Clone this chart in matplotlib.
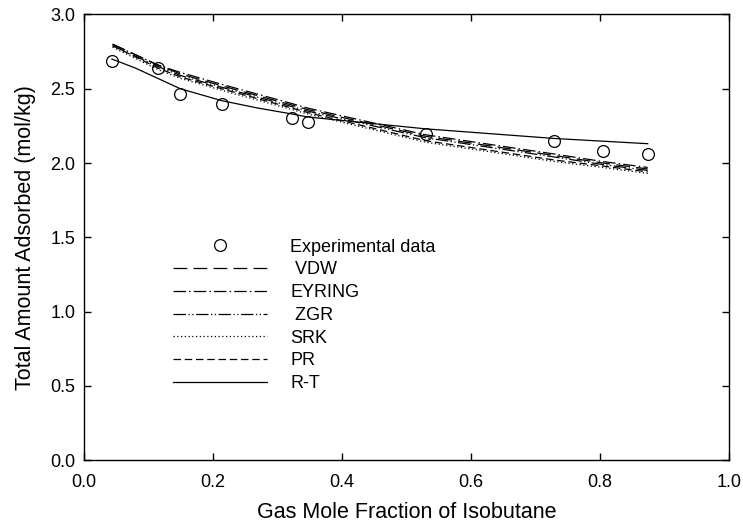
import matplotlib
matplotlib.use("Agg")
import matplotlib.pyplot as plt

plt.rcParams['font.family'] = ['Liberation Sans', 'DejaVu Sans']

# Experimental data
x_exp = [0.044, 0.115, 0.150, 0.214, 0.323, 0.347, 0.530, 0.729, 0.804, 0.874]
y_exp = [2.686, 2.638, 2.468, 2.395, 2.306, 2.276, 2.198, 2.146, 2.078, 2.058]

# Model curves
x_mod = [0.045, 0.115, 0.150, 0.214, 0.323, 0.347, 0.530, 0.730, 0.804, 0.874]
y_vdw = [2.80, 2.66, 2.60, 2.52, 2.39, 2.36, 2.18, 2.05, 2.00, 1.96]
y_eyring = [2.80, 2.66, 2.61, 2.53, 2.40, 2.37, 2.19, 2.06, 2.01, 1.97]
y_zgr = [2.79, 2.65, 2.59, 2.51, 2.38, 2.35, 2.17, 2.04, 1.99, 1.95]
y_srk = [2.78, 2.63, 2.57, 2.49, 2.36, 2.33, 2.14, 2.01, 1.97, 1.93]
y_pr = [2.79, 2.64, 2.58, 2.50, 2.37, 2.34, 2.15, 2.02, 1.98, 1.94]
x_rt = [0.044, 0.080, 0.115, 0.150, 0.214, 0.270, 0.323, 0.347, 0.530, 0.730, 0.874]
y_rt = [2.70, 2.64, 2.57, 2.50, 2.42, 2.37, 2.33, 2.31, 2.23, 2.165, 2.13]

labels = ['Experimental data', ' VDW', 'EYRING', ' ZGR', 'SRK', 'PR', 'R-T']
x_ticks = [0.0, 0.2, 0.4, 0.6, 0.8, 1.0]
y_ticks = [0.0, 0.5, 1.0, 1.5, 2.0, 2.5, 3.0]

fig = plt.figure(figsize=(7.43, 5.29), dpi=100)
ax = fig.add_axes([0.1124, 0.1304, 0.8688, 0.8422])

lw = 0.9
styles = {
    'vdw': (0, (11, 5)),
    'eyring': (0, (10, 2.5, 1.2, 2.5)),
    'zgr': (0, (10, 2, 1, 2, 1, 2)),
    'srk': (0, (1, 2)),
    'pr': (0, (6, 3)),
    'rt': '-',
}

h_exp, = ax.plot(x_exp, y_exp, linestyle='none', marker='o', markersize=8.5,
                 markerfacecolor='none', markeredgecolor='black', markeredgewidth=0.9)
h_vdw, = ax.plot(x_mod, y_vdw, color='black', lw=lw, linestyle=styles['vdw'])
h_ey, = ax.plot(x_mod, y_eyring, color='black', lw=lw, linestyle=styles['eyring'])
h_zgr, = ax.plot(x_mod, y_zgr, color='black', lw=lw, linestyle=styles['zgr'])
h_srk, = ax.plot(x_mod, y_srk, color='black', lw=lw, linestyle=styles['srk'])
h_pr, = ax.plot(x_mod, y_pr, color='black', lw=lw, linestyle=styles['pr'])
h_rt, = ax.plot(x_rt, y_rt, color='black', lw=lw, linestyle=styles['rt'])

ax.set_xlim(0, 1.0)
ax.set_ylim(0, 3.0)
ax.set_xticks(x_ticks)
ax.set_yticks(y_ticks)
ax.set_xticklabels([f"{v:.1f}" for v in x_ticks])
ax.set_yticklabels([f"{v:.1f}" for v in y_ticks])
ax.tick_params(direction='in', length=5, width=1, top=True, right=True,
               labelsize=13)
ax.tick_params(axis='y', pad=6)
ax.tick_params(axis='x', pad=10)
for s in ax.spines.values():
    s.set_linewidth(1)

ax.set_xlabel('Gas Mole Fraction of Isobutane', fontsize=15.5, labelpad=8)
ax.set_ylabel('Total Amount Adsorbed (mol/kg)', fontsize=15.5, labelpad=10)

leg = ax.legend([h_exp, h_vdw, h_ey, h_zgr, h_srk, h_pr, h_rt], labels,
                loc='upper left', bbox_to_anchor=(0.1387, 0.497),
                frameon=False, fontsize=13, handlelength=5.2,
                handletextpad=1.28, labelspacing=0.32, borderpad=0,
                borderaxespad=0)

fig.savefig('out.png', dpi=100)
